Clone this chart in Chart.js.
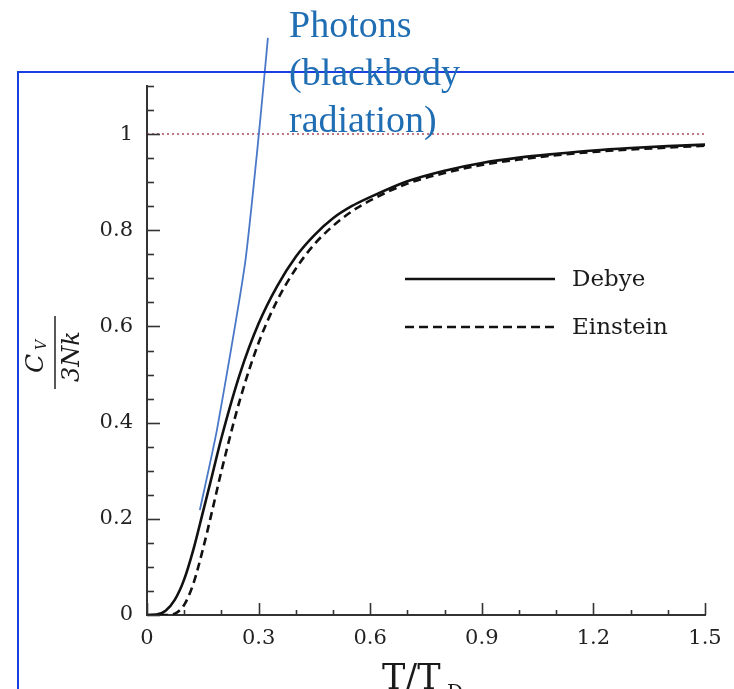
<!DOCTYPE html>
<html>
<head>
<meta charset="utf-8">
<script src="https://cdn.jsdelivr.net/npm/chart.js@4.4.0/dist/chart.umd.min.js"></script>
<style>
  html, body { margin: 0; padding: 0; background: #fff; }
  #wrap { width: 734px; height: 689px; position: relative; }
</style>
</head>
<body>
<div id="wrap"><canvas id="heatChart" width="734" height="689"></canvas></div>
<script>
// ── data ─────────────────────────────────────────────────────────────────────
const T_VALUES = [0, 0.025, 0.05, 0.075, 0.1, 0.125, 0.15, 0.175, 0.2, 0.25, 0.3, 0.35,
                  0.4, 0.45, 0.5, 0.55, 0.6, 0.7, 0.8, 0.9, 1.0, 1.1, 1.2, 1.3, 1.4, 1.5];
const DEBYE    = [0, 0.001, 0.009, 0.032, 0.074, 0.137, 0.213, 0.29, 0.368, 0.502, 0.606, 0.684,
                  0.745, 0.79, 0.825, 0.85, 0.869, 0.902, 0.924, 0.940, 0.951, 0.959, 0.966, 0.971, 0.975, 0.978];
const EINSTEIN = [0, 0, 0, 0.003, 0.021, 0.066, 0.136, 0.216, 0.299, 0.448, 0.566, 0.654,
                  0.72, 0.771, 0.809, 0.839, 0.862, 0.897, 0.919, 0.936, 0.947, 0.956, 0.963, 0.968, 0.972, 0.976];
const PHOTON_T = [0.142, 0.188, 0.263, 0.301, 0.325];
const PHOTON_C = [0.218, 0.385, 0.728, 1.002, 1.2];
const LIMIT_T  = [0, 1.5];
const LIMIT_C  = [1, 1];
const X_TICKS  = [0, 0.3, 0.6, 0.9, 1.2, 1.5];
const Y_TICKS  = [0, 0.2, 0.4, 0.6, 0.8, 1];
const SERIES_NAMES = ['Debye', 'Einstein'];
const PHOTON_LABEL = ['Photons', '(blackbody', 'radiation)'];

const pts = (xs, ys) => xs.map((x, i) => ({ x, y: ys[i] }));
const TICK_FONT = { family: 'DejaVu Serif', size: 21 };
const fmt = v => String(+Number(v).toFixed(2));

// ── plugin: inward ticks, axis titles, legend, blue frame + annotation ──────
const decorations = {
  id: 'decorations',
  afterDraw(chart) {
    const { ctx, scales: { x, y }, chartArea: ca } = chart;
    ctx.save();

    // inward tick marks
    ctx.strokeStyle = '#333';
    ctx.lineWidth = 1.6;
    for (let i = 0; i <= 22; i++) {
      const v = i * 0.05;
      const py = Math.round(y.getPixelForValue(v)) + 0.5;
      const len = i % 4 === 0 ? 13 : 7;
      ctx.beginPath(); ctx.moveTo(ca.left, py); ctx.lineTo(ca.left + len, py); ctx.stroke();
    }
    for (let i = 0; i <= 15; i++) {
      const v = i * 0.1;
      const px = Math.round(x.getPixelForValue(v)) + 0.5;
      const len = i % 3 === 0 ? 12 : 5;
      ctx.beginPath(); ctx.moveTo(px, ca.bottom); ctx.lineTo(px, ca.bottom - len); ctx.stroke();
    }

    // legend
    const lx0 = 405, lx1 = 555;
    [[279, []], [327, [9, 5]]].forEach(([ly, dash], i) => {
      ctx.strokeStyle = '#111';
      ctx.lineWidth = 2.6;
      ctx.setLineDash(dash);
      ctx.beginPath(); ctx.moveTo(lx0, ly); ctx.lineTo(lx1, ly); ctx.stroke();
      ctx.setLineDash([]);
      ctx.fillStyle = '#1a1a1a';
      ctx.font = '23px "DejaVu Serif"';
      ctx.textBaseline = 'middle';
      ctx.textAlign = 'left';
      ctx.fillText(SERIES_NAMES[i], 572, ly + 1);
    });

    // x title  T/T_D
    ctx.fillStyle = '#1a1a1a';
    ctx.textBaseline = 'alphabetic';
    ctx.font = '35px "DejaVu Serif"';
    ctx.fillText('T/T', 382, 689);
    ctx.font = '20px "DejaVu Serif"';
    ctx.fillText('D', 447, 699);

    // y title  C_V / 3Nk  (rotated fraction)
    ctx.save();
    ctx.translate(55, 352);
    ctx.rotate(-Math.PI / 2);
    ctx.strokeStyle = '#222';
    ctx.lineWidth = 1.5;
    ctx.beginPath(); ctx.moveTo(-37, 0); ctx.lineTo(36, 0); ctx.stroke();
    ctx.textAlign = 'left';
    ctx.font = 'italic 25px "DejaVu Serif"';
    ctx.fillText('C', -21, -12);
    ctx.font = 'italic 14px "DejaVu Serif"';
    ctx.fillText('V', 2, -9);
    ctx.font = 'italic 24px "DejaVu Serif"';
    ctx.fillText('3Nk', -30, 24);
    ctx.restore();

    // blue frame
    ctx.strokeStyle = '#1a3fe0';
    ctx.lineWidth = 2;
    ctx.beginPath(); ctx.moveTo(18, 689); ctx.lineTo(18, 72); ctx.lineTo(734, 72); ctx.stroke();

    // photon annotation text
    ctx.fillStyle = '#1f6db3';
    ctx.font = '38px "Liberation Serif"';
    ctx.textAlign = 'left';
    PHOTON_LABEL.forEach((s, i) => ctx.fillText(s, 289, 37 + i * 47.5));

    ctx.restore();
  }
};

const ctx = document.getElementById('heatChart').getContext('2d');
new Chart(ctx, {
  type: 'line',
  data: {
    datasets: [
      { label: 'Photons', data: pts(PHOTON_T, PHOTON_C), borderColor: '#4a78c8',
        borderWidth: 1.8, pointRadius: 0, clip: false, tension: 0.2 },
      { label: SERIES_NAMES[0], data: pts(T_VALUES, DEBYE), borderColor: '#111',
        borderWidth: 2.6, pointRadius: 0, cubicInterpolationMode: 'monotone' },
      { label: SERIES_NAMES[1], data: pts(T_VALUES, EINSTEIN), borderColor: '#111',
        borderWidth: 2.6, borderDash: [8, 5], pointRadius: 0, cubicInterpolationMode: 'monotone' },
      { label: 'limit', data: pts(LIMIT_T, LIMIT_C), borderColor: 'rgba(160,40,60,0.85)',
        borderWidth: 1.5, borderDash: [2, 3], pointRadius: 0 }
    ]
  },
  options: {
    responsive: false,
    animation: false,
    layout: { padding: { left: 100, top: 86, right: 29, bottom: 0 } },
    scales: {
      x: {
        type: 'linear', min: 0, max: 1.5,
        afterBuildTicks: s => { s.ticks = X_TICKS.map(v => ({ value: v })); },
        afterFit: s => { s.height = 74; },
        grid: { display: true, drawOnChartArea: false, drawTicks: false },
        border: { display: true, color: '#333', width: 2 },
        ticks: { color: '#222', font: TICK_FONT, padding: 11, maxRotation: 0, callback: fmt }
      },
      y: {
        type: 'linear', min: 0, max: 1.1,
        afterBuildTicks: s => { s.ticks = Y_TICKS.map(v => ({ value: v })); },
        afterFit: s => { s.width = 47; },
        grid: { display: true, drawOnChartArea: false, drawTicks: false },
        border: { display: true, color: '#333', width: 2 },
        ticks: { color: '#222', font: TICK_FONT, padding: 14, callback: fmt }
      }
    },
    plugins: { legend: { display: false }, tooltip: { enabled: false } }
  },
  plugins: [decorations]
});
</script>
</body>
</html>
